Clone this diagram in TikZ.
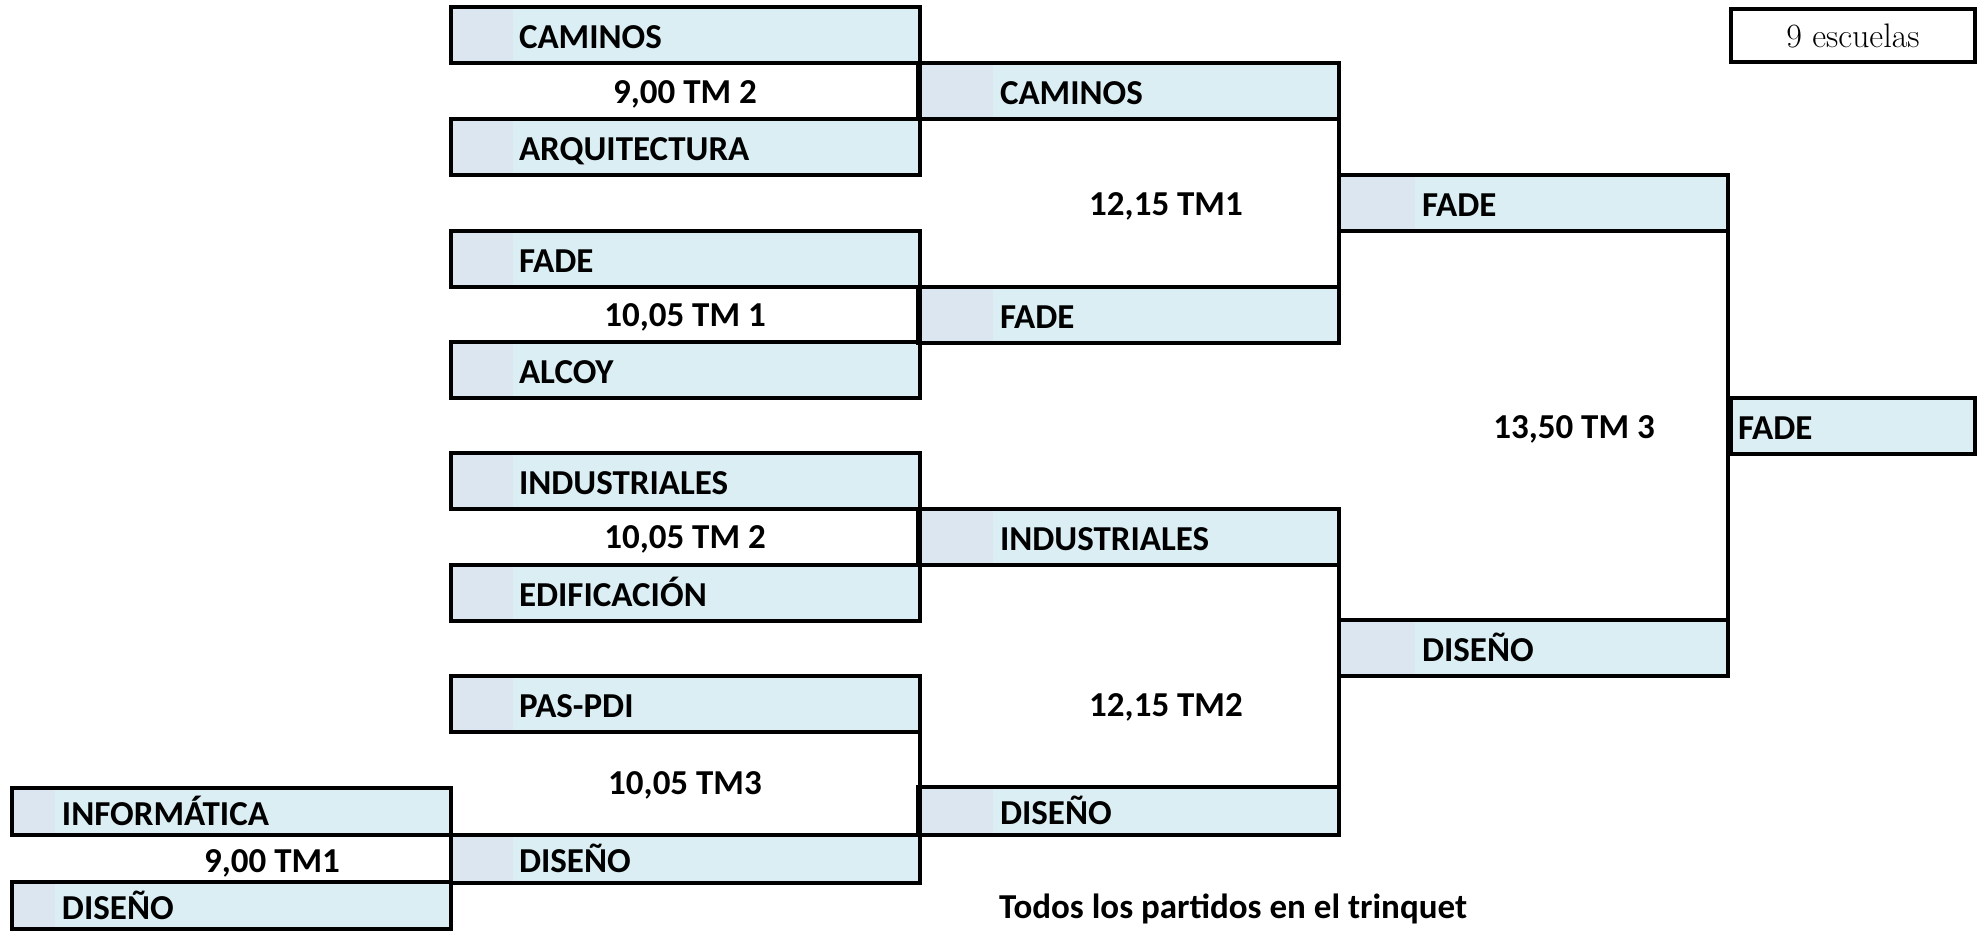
\documentclass[tikz,border=0pt]{standalone}
\usepackage{fontspec}
\newfontfamily\calibri{Carlito}
\usepackage{tikz}
\definecolor{celda}{HTML}{DAEEF3}
\definecolor{franja}{HTML}{DCE6F1}

\tikzset{
  team/.style n args={3}{rectangle, draw, line width=4.5pt, fill=celda, anchor=north west,
    outer sep=0pt, inner xsep=0pt, inner ysep=0pt, minimum height=56pt, text width=#1,
    text height=27pt, text depth=0pt,
    align=left, font=\calibri\bfseries\fontsize{35}{40}\selectfont,
    execute at begin node={\hspace*{#3}},
    path picture={\fill[franja] (path picture bounding box.north west) rectangle ([xshift=#2]path picture bounding box.south west);}},
  colA/.style={team={439pt}{43pt}{50pt}},
  colB/.style={team={469pt}{62pt}{68pt}},
  colC/.style={team={421pt}{75pt}{82pt}},
  colD/.style={team={389pt}{76pt}{83pt}},
  colE/.style={team={244pt}{0pt}{7pt}},
  score/.style={font=\calibri\bfseries\fontsize{35}{40}\selectfont},
  link/.style={line width=4.5pt}
}

\begin{document}
\begin{tikzpicture}[x=1pt, y=-1pt]
\useasboundingbox (0,0) rectangle (1981,931);

% first round
\node (b1) [colB] at (451,7) {CAMINOS};
\node (b2) [colB] at (451,119) {ARQUITECTURA};
\node (b3) [colB] at (451,231) {FADE};
\node (b4) [colB] at (451,342) {ALCOY};
\node (b5) [colB] at (451,453) {INDUSTRIALES};
\node (b6) [colB] at (451,565) {EDIFICACIÓN};
\node (b7) [colB] at (451,676) {PAS-PDI};
\node (b8) [colB, minimum height=48pt] at (451,835) {DISEÑO};
\node (a1) [colA, minimum height=47pt] at (12,788) {INFORMÁTICA};
\node (a2) [colA, minimum height=47pt] at (12,882) {DISEÑO};

% later rounds
\node (c1) [colC] at (918,63) {CAMINOS};
\node (c2) [colC] at (918,287) {FADE};
\node (c3) [colC] at (918,509) {INDUSTRIALES};
\node (c4) [colC, minimum height=48pt] at (918,787) {DISEÑO};
\node (d1) [colD] at (1339,175) {FADE};
\node (d2) [colD] at (1339,620) {DISEÑO};
\node (e1) [colE] at (1731,398) {FADE};

\draw[link] (b1.north east) -- (b2.south east);
\draw[link] (b3.north east) -- (b4.south east);
\draw[link] (b5.north east) -- (b6.south east);
\draw[link] (b7.north east) -- (b8.south east);
\draw[link] (a1.north east) -- (a2.south east);
\draw[link] (c1.north east) -- (c2.south east);
\draw[link] (c3.north east) -- (c4.south east);
\draw[link] (d1.north east) -- (d2.south east);

% times
\node (s1) [score] at (685,94) {9,00 TM 2};
\node (s2) [score] at (685,317) {10,05 TM 1};
\node (s3) [score] at (685,539) {10,05 TM 2};
\node (s4) [score] at (685,785) {10,05 TM3};
\node (s5) [score] at (272,863) {9,00 TM1};
\node (s6) [score] at (1166,206) {12,15 TM1};
\node (s7) [score] at (1166,707) {12,15 TM2};
\node (s8) [score] at (1574,429) {13,50 TM 3};

\node (nota) [score, anchor=west, inner sep=0pt] at (999,909) {Todos los partidos en el trinquet};
\node (total) [draw, line width=4.5pt, anchor=north west, outer sep=0pt, minimum width=244pt,
  minimum height=53pt, font=\fontsize{34}{40}\selectfont] at (1731,9) {9 escuelas};
\end{tikzpicture}
\end{document}
